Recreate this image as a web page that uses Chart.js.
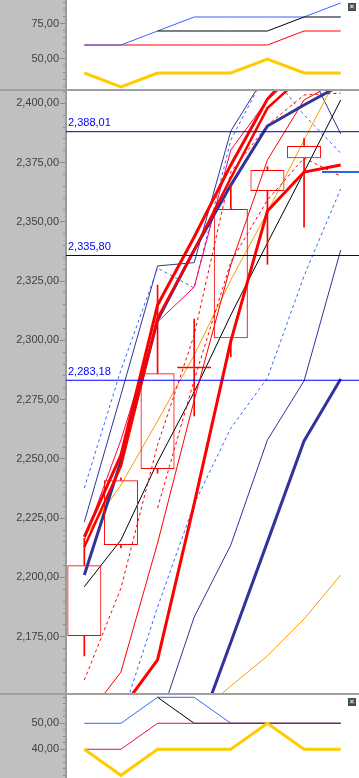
<!DOCTYPE html>
<html><head><meta charset="utf-8">
<script src="https://cdn.jsdelivr.net/npm/chart.js@4.4.1/dist/chart.umd.min.js"></script>
<style>
html,body{margin:0;padding:0;background:#c0c0c0;width:359px;height:778px;overflow:hidden;}
.w{position:absolute;left:66px;width:293px;background:#fff;}
.sep{position:absolute;left:0;width:359px;height:2px;background:#a0a0a0;}
.cv{position:absolute;left:0;}
.icon{position:absolute;left:348px;width:8px;height:8px;background:#4a4a4a;color:#fff;font:7px/8px 'DejaVu Sans';text-align:center;}
</style></head><body>
<div class="w" style="top:0;height:89px"></div>
<div class="w" style="top:91px;height:602px"></div>
<div class="w" style="top:695px;height:83px"></div>
<canvas id="cTop" class="cv" style="top:0" width="359" height="89"></canvas>
<div class="sep" style="top:89px"></div>
<canvas id="cMain" class="cv" style="top:91px" width="359" height="602"></canvas>
<div class="sep" style="top:693px"></div>
<canvas id="cBot" class="cv" style="top:695px" width="359" height="83"></canvas>
<div class="icon" style="top:3px">✕</div>
<div class="icon" style="top:698px">✕</div>
<script>
// ---- categories (bars) ----
const categories = ['1','2','3','4','5','6','7','8'];

// ---- top indicator panel ----
const topBlue   = [60,60,70,80,80,80,80,90];
const topBlack  = [null,null,70,70,70,70,80,80];
const topRed    = [60,60,60,60,60,60,70,70];
const topYellow = [40,30,40,40,40,50,40,40];

// ---- bottom indicator panel ----
const botBlue   = [50,50,60,60,50,50,50,50];
const botBlack  = [null,null,60,50,50,50,50,50];
const botRed    = [40,40,50,50,50,50,50,50];
const botYellow = [40,30,40,40,40,50,40,40];

// ---- candles ----
const candleOpen  = [2175.3, 2213.7, 2245.7, 2288.1, 2300.9, 2363.0, 2376.8, null];
const candleClose = [2205.1, 2241.0, 2286.1, 2289.0, 2355.4, 2371.9, 2382.0, null];
const candleHigh  = [2216.5, 2242.0, 2323.3, 2309.0, 2365.5, 2373.3, 2385.2, null];
const candleLow   = [2166.9, 2212.5, 2244.0, 2268.1, 2293.1, 2332.1, 2347.7, null];

// ---- price levels ----
const levels = [2388.01, 2335.80, 2283.18];
const levelLabels = ['2,388,01', '2,335,80', '2,283,18'];
const lastMarker = [null,null,null,null,null,null,null,2371.0];

// ---- main panel lines ----
const redThickA   = [2217.1, 2251.6, 2314.9, 2343.6, 2374.0, 2401.8, 2418.0, 2428.0];
const redThickA2  = [2212.8, 2247.0, 2309.4, 2338.1, 2368.5, 2398.0, 2412.0, 2420.0];
const pinkThin    = [2215.8, 2258.0, 2307.8, 2322.5, 2380.3, 2401.4, 2415.0, 2425.0];
const navyThick   = [2201.0, 2249.1, 2308.6, 2338.1, 2365.5, 2390.4, 2399.3, 2407.7];
const orangeUpper = [2217.1, 2239.0, 2266.0, 2293.8, 2325.5, 2354.1, 2384.5, 2414.0];
const orangeLower = [null, null, null, 2141.0, 2154.2, 2166.9, 2182.5, 2201.0];
const blackLine   = [2196.1, 2215.8, 2248.7, 2278.2, 2310.7, 2341.1, 2371.0, 2401.4];
const redThickB   = [2123.0, 2144.2, 2165.2, 2231.0, 2299.7, 2354.6, 2371.0, 2374.0];
const redDashed1  = [2156.7, 2195.5, 2255.9, 2302.3, 2371.0, 2390.8, 2403.5, 2404.3];
const redDashed2  = [null, null, 2229.3, 2283.3, 2333.1, 2359.2, 2376.9, 2369.3];
const redThin     = [2139.9, 2160.1, 2214.5, 2274.8, 2331.8, 2376.1, 2401.4, 2409.8];
const blueDashUp  = [2237.7, 2287.5, 2330.5, 2322.1, 2384.5, 2414.0, 2395.1, 2379.0];
const navyThinUp  = [2223.4, 2277.0, 2331.4, 2332.8, 2388.3, 2413.2, 2418.3, 2387.1];
const blueDashLow = [2110.3, 2139.9, 2187.5, 2231.0, 2263.0, 2284.1, 2327.2, 2363.9];
const navyThinLow = [2080.0, 2106.1, 2137.3, 2183.3, 2213.7, 2258.0, 2282.9, 2338.1];
const navyThickLow= [2060.0, 2085.0, 2105.0, 2130.6, 2172.7, 2215.0, 2257.6, 2283.7];

// ---- axis ranges ----
const topRange  = [28.57, 92.14];
const mainRange = [2151.26, 2405.19];
const botRange  = [28.96, 60.88];

const FONT = {family:'Liberation Sans', size:11};
const LABEL_COLOR = '#404040';
const TICK_COLOR = '#8a8a8a';

function fmt(v){
  const neg = v < 0; v = Math.abs(v);
  const s = v.toFixed(2).split('.');
  const int = s[0].replace(/\B(?=(\d{3})+(?!\d))/g, ',');
  return (neg?'-':'') + int + ',' + s[1];
}
const isMult = (v,m)=> Math.abs(v/m - Math.round(v/m)) < 1e-6;

function zeroPad(ax){ ax.paddingTop = 0; ax.paddingBottom = 0; ax.paddingLeft = 0; ax.paddingRight = 0; }

function yAxes(range, major, minor, labelFilter){
  return {
    y: {
      position:'left', weight:1, min:range[0], max:range[1],
      ticks:{stepSize:major, includeBounds:false, color:LABEL_COLOR, font:FONT, padding:1, autoSkip:false,
             callback:(v)=>fmt(v)},
      afterBuildTicks:(ax)=>{ ax.ticks = ax.ticks.filter(t => labelFilter(t.value)); },
      afterFit:(ax)=>{ ax.width = 66; zeroPad(ax); },
      grid:{drawOnChartArea:false, drawTicks:true, tickLength:6, color:TICK_COLOR, tickColor:TICK_COLOR},
      border:{display:true, color:'#9a9a9a', width:2}
    },
    ym: {
      position:'left', weight:0, min:range[0], max:range[1],
      ticks:{stepSize:minor, includeBounds:false, display:false},
      afterBuildTicks:(ax)=>{ ax.ticks = ax.ticks.filter(t => isMult(t.value, minor) && !labelFilter(t.value)); },
      afterFit:(ax)=>{ ax.width = 0; zeroPad(ax); },
      grid:{drawOnChartArea:false, drawTicks:true, tickLength:3, color:TICK_COLOR, tickColor:TICK_COLOR},
      border:{display:false}
    }
  };
}

function lineDS(data, color, width, dash, order){
  return {type:'line', data, borderColor:color, backgroundColor:color, borderWidth:width,
          borderDash:dash||[], pointRadius:0, tension:0, order:order, spanGaps:false, yAxisID:'y'};
}

const baseOpts = {
  responsive:false, animation:false, maintainAspectRatio:false,
  layout:{padding:0},
  plugins:{legend:{display:false}, tooltip:{enabled:false}}
};

// ---- top chart ----
new Chart(document.getElementById('cTop'), {
  type:'line',
  data:{labels:categories, datasets:[
    lineDS(topYellow,'#ffcc00',3,null,1),
    lineDS(topBlack,'#000000',1,null,2),
    lineDS(topBlue,'#3366ff',1,null,3),
    lineDS(topRed,'#ff0000',1,null,4)
  ]},
  options:Object.assign({}, baseOpts, {
    scales:Object.assign({x:{type:'category', offset:true, display:false}},
      yAxes(topRange, 25, 5, v => isMult(v,25)))
  })
});

// ---- bottom chart ----
new Chart(document.getElementById('cBot'), {
  type:'line',
  data:{labels:categories, datasets:[
    lineDS(botYellow,'#ffcc00',3,null,1),
    lineDS(botRed,'#e8103a',1,null,2),
    lineDS(botBlack,'#000000',1,null,3),
    lineDS(botBlue,'#3366ff',1,null,4)
  ]},
  options:Object.assign({}, baseOpts, {
    scales:Object.assign({x:{type:'category', offset:true, display:false}},
      yAxes(botRange, 10, 2.5, v => isMult(v,10) && v>=40 && v<=50))
  })
});

// ---- main chart ----
const bodies = candleOpen.map((o,i)=> o==null?null:[Math.min(o,candleClose[i]), Math.max(o,candleClose[i])]);
const upperWicks = candleOpen.map((o,i)=> o==null?null:[Math.max(o,candleClose[i]), candleHigh[i]]);
const lowerWicks = candleOpen.map((o,i)=> o==null?null:[candleLow[i], Math.min(o,candleClose[i])]);
const markerBars = lastMarker.map(v => v==null?null:[v-0.3, v+0.3]);
const levelColors = ['#00008b','#00008b','#0000ff'];

const levelPlugin = {
  id:'levelLabels',
  afterDatasetsDraw(chart){
    const ctx = chart.ctx, ys = chart.scales.y, area = chart.chartArea;
    ctx.save();
    ctx.font = "11px 'Liberation Sans'";
    ctx.fillStyle = '#0000ff';
    ctx.textBaseline = 'bottom';
    ctx.textAlign = 'left';
    levels.forEach((lv,i)=>{
      ctx.fillText(levelLabels[i], area.left + 2, ys.getPixelForValue(lv) - 3);
    });
    ctx.restore();
  }
};

const mainDatasets = [];
levels.forEach((lv,i)=>{
  mainDatasets.push({type:'line', xAxisID:'x2', yAxisID:'y', data:[{x:0,y:lv},{x:1,y:lv}],
    borderColor:levelColors[i], borderWidth:1, pointRadius:0, order:0});
});
mainDatasets.push({type:'bar', data:bodies, backgroundColor:'rgba(0,0,0,0)', borderColor:'#ff0000',
  borderWidth:1, borderSkipped:false, barPercentage:0.93, categoryPercentage:1, grouped:false, order:1, yAxisID:'y'});
mainDatasets.push({type:'bar', data:upperWicks, backgroundColor:'#ff0000', barThickness:1, grouped:false, order:1, yAxisID:'y'});
mainDatasets.push({type:'bar', data:lowerWicks, backgroundColor:'#ff0000', barThickness:1, grouped:false, order:1, yAxisID:'y'});
mainDatasets.push({type:'bar', data:markerBars, backgroundColor:'#2a66dd', barPercentage:1, categoryPercentage:1, grouped:false, order:1, yAxisID:'y'});

mainDatasets.push(lineDS(redThickA,'#ff0000',3,null,2));
mainDatasets.push(lineDS(redThickB,'#ff0000',3,null,2));
mainDatasets.push(lineDS(redThickA2,'#ff0000',2.5,null,3));
mainDatasets.push(lineDS(navyThick,'#333399',3,null,4));
mainDatasets.push(lineDS(navyThickLow,'#333399',3,null,4));
mainDatasets.push(lineDS(pinkThin,'#ff0055',1,null,5));
mainDatasets.push(lineDS(redThin,'#ff0000',1,null,5));
mainDatasets.push(lineDS(redDashed1,'#ff0000',1,[3,3],5));
mainDatasets.push(lineDS(redDashed2,'#ff0000',1,[3,3],5));
mainDatasets.push(lineDS(orangeUpper,'#ff9900',1,null,6));
mainDatasets.push(lineDS(orangeLower,'#ff9900',1,null,6));
mainDatasets.push(lineDS(blackLine,'#000000',1,null,6));
mainDatasets.push(lineDS(blueDashUp,'#3366ff',1,[3,3],7));
mainDatasets.push(lineDS(blueDashLow,'#3366ff',1,[3,3],7));
mainDatasets.push(lineDS(navyThinUp,'#333399',1,null,7));
mainDatasets.push(lineDS(navyThinLow,'#333399',1,null,7));

new Chart(document.getElementById('cMain'), {
  type:'bar',
  data:{labels:categories, datasets:mainDatasets},
  options:Object.assign({}, baseOpts, {
    scales:Object.assign({
      x:{type:'category', offset:true, display:false},
      x2:{type:'linear', min:0, max:1, offset:false, display:false}
    }, yAxes(mainRange, 25, 5, v => isMult(v,25)))
  }),
  plugins:[levelPlugin]
});
</script>
</body></html>
